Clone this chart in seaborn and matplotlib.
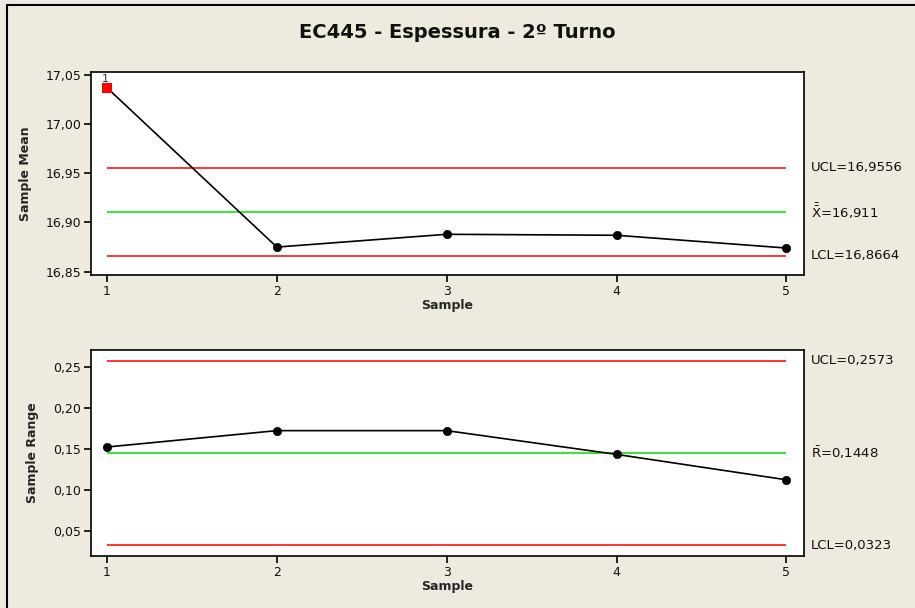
import matplotlib
matplotlib.use("Agg")
import matplotlib.pyplot as plt
from matplotlib.lines import Line2D
from matplotlib.ticker import FuncFormatter
import seaborn as sns
import pandas as pd

# Xbar-R chart data
samples = [1, 2, 3, 4, 5]
sample_means = [17.037, 16.875, 16.888, 16.887, 16.874]
sample_ranges = [0.152, 0.172, 0.172, 0.143, 0.112]
out_of_control = [True, False, False, False, False]

mean_ucl, mean_center, mean_lcl = 16.9556, 16.911, 16.8664
range_ucl, range_center, range_lcl = 0.2573, 0.1448, 0.0323

mean_ticks = [16.85, 16.90, 16.95, 17.00, 17.05]
range_ticks = [0.05, 0.10, 0.15, 0.20, 0.25]

title = "EC445 - Espessura - 2º Turno"

BG = "#EEEAE0"

sns.set_theme(style="white")
plt.rcParams["font.family"] = ["DejaVu Sans"]
plt.rcParams["mathtext.default"] = "regular"

W, H = 915, 608
fig = plt.figure(figsize=(W / 100, H / 100), dpi=100, facecolor=BG)


def box(x0, y0, x1, y1):
    return [x0 / W, 1 - y1 / H, (x1 - x0) / W, (y1 - y0) / H]


ax1 = fig.add_axes(box(91, 72, 804, 275))
ax2 = fig.add_axes(box(91, 350, 804, 556))

df = pd.DataFrame({"Sample": samples, "Mean": sample_means,
                   "Range": sample_ranges, "Flag": out_of_control})

comma = FuncFormatter(lambda v, p: f"{v:.2f}".replace(".", ","))


def style_axes(ax, ticks, ylim):
    ax.set_facecolor("white")
    for s in ax.spines.values():
        s.set_color("black")
        s.set_linewidth(1.2)
    ax.set_xlim(0.906, 5.1035)
    ax.set_ylim(*ylim)
    ax.set_xticks(samples)
    ax.set_yticks(ticks)
    ax.yaxis.set_major_formatter(comma)
    ax.tick_params(axis="both", direction="out", length=5, width=1.2,
                   color="black", labelsize=9, labelcolor="#111111",
                   left=True, bottom=True, pad=2)
    ax.set_xlabel("Sample", fontsize=9, fontweight="bold", labelpad=1)


def limits(ax, ucl, cl, lcl):
    ax.hlines([ucl, lcl], 1, 5, colors="#FF1010", linewidth=1.2, zorder=2)
    ax.hlines([cl], 1, 5, colors="#10E010", linewidth=1.2, zorder=2)


# Sample mean chart
limits(ax1, mean_ucl, mean_center, mean_lcl)
sns.lineplot(data=df, x="Sample", y="Mean", ax=ax1, color="black",
             linewidth=1.2, zorder=3)
sns.scatterplot(data=df[~df.Flag], x="Sample", y="Mean", ax=ax1,
                color="black", s=36, edgecolor="black", zorder=4)
sns.scatterplot(data=df[df.Flag], x="Sample", y="Mean", ax=ax1,
                color="#FF0000", marker="s", s=45, linewidth=0, zorder=4)
for _, r in df[df.Flag].iterrows():
    ax1.annotate("1", (r.Sample, r.Mean), xytext=(-1.5, 3),
                 textcoords="offset points", fontsize=8, color="#333333",
                 ha="center", va="bottom")
style_axes(ax1, mean_ticks, (16.8466, 17.053))
ax1.set_ylabel("Sample Mean", fontsize=9, fontweight="bold", labelpad=10)

# Sample range chart
limits(ax2, range_ucl, range_center, range_lcl)
sns.lineplot(data=df, x="Sample", y="Range", ax=ax2, color="black",
             linewidth=1.2, zorder=3)
sns.scatterplot(data=df, x="Sample", y="Range", ax=ax2,
                color="black", s=36, edgecolor="black", zorder=4)
style_axes(ax2, range_ticks, (0.019, 0.2704))
ax2.set_ylabel("Sample Range", fontsize=9, fontweight="bold", labelpad=10)

# Limit labels to the right of each chart
def side_label(ax, y, text):
    ax.annotate(text, xy=(1.0, y), xycoords=("axes fraction", "data"),
                xytext=(5, 0), textcoords="offset points",
                fontsize=9.5, color="#111111", va="center", ha="left",
                annotation_clip=False)


side_label(ax1, mean_ucl, "UCL=" + f"{mean_ucl:.4f}".replace(".", ","))
side_label(ax1, mean_center, r"$\bar{\bar{X}}$=" + f"{mean_center:.3f}".replace(".", ","))
side_label(ax1, mean_lcl, "LCL=" + f"{mean_lcl:.4f}".replace(".", ","))
side_label(ax2, range_ucl, "UCL=" + f"{range_ucl:.4f}".replace(".", ","))
side_label(ax2, range_center, r"$\bar{R}$=" + f"{range_center:.4f}".replace(".", ","))
side_label(ax2, range_lcl, "LCL=" + f"{range_lcl:.4f}".replace(".", ","))

fig.text(457 / W, 1 - 33 / H, title, ha="center", va="center",
         fontsize=14, fontweight="bold", color="#111111")

# Outer frame (left and top edges)
fig.add_artist(Line2D([7 / W, 7 / W], [0, 1 - 5 / H], color="black",
                      linewidth=1.5, transform=fig.transFigure))
fig.add_artist(Line2D([7 / W, 1], [1 - 5 / H, 1 - 5 / H], color="black",
                      linewidth=1.5, transform=fig.transFigure))

fig.savefig("out.png", dpi=100, facecolor=BG)
